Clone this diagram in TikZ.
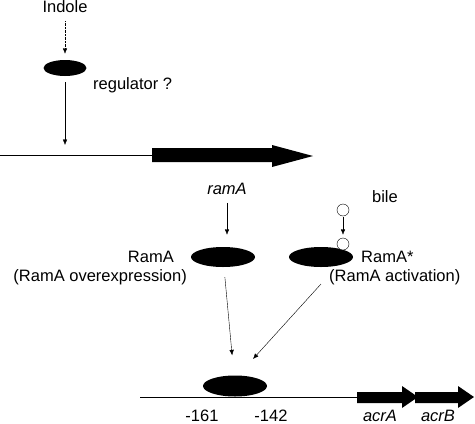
\documentclass[tikz,border=0pt]{standalone}
\usepackage{fontspec}
\setmainfont{Liberation Sans}
\usetikzlibrary{shapes.geometric,arrows.meta}
\tikzset{
  lbl/.style={font=\fontsize{16.5}{19}\selectfont, inner sep=0pt},
  gene/.style={font=\fontsize{16.5}{19}\selectfont\itshape, inner sep=0pt},
  blob/.style={ellipse, fill=black, minimum width=64pt, minimum height=20pt, inner sep=0pt},
  ligand/.style={circle, draw, fill=white, thin, minimum size=12pt, inner sep=0pt},
  arr/.style={-{Latex[length=5.5pt,width=4.5pt]}}
}

\begin{document}
\begin{tikzpicture}[x=1pt,y=-1pt]
        \useasboundingbox (0,0) rectangle (475,424);
        % indole and its regulator
        \node[lbl] (indole) at (65,7) {Indole};
        \node[blob, minimum width=43pt, minimum height=16pt] (reg) at (65,68) {};
        \node[lbl, anchor=west] (regtxt) at (93,85) {regulator ?};
        \coordinate (ramprom) at (65,145);
        \draw[densely dotted, arr, shorten <=8pt, shorten >=6pt] (indole) -- (reg);
        \draw[arr, shorten <=6pt] (reg) -- (ramprom);

        % ramA gene
        \draw (0,155) -- (152,155);
        \fill (152,148) -- (272,148) -- (272,145) -- (313,156) -- (272,167) -- (272,162) -- (152,162) -- cycle;
        \node[gene] (ramAtxt) at (227,189) {ramA};

        % RamA and activated RamA
        \node[blob] (ramA) at (223,257) {};
        \node[blob] (ramAstar) at (321,257) {};
        \node[lbl, anchor=east] (ramAlbl) at (174,257) {RamA};
        \node[lbl, anchor=east] (overlbl) at (187,277) {(RamA overexpression)};
        \draw[arr, shorten <=8pt, shorten >=12pt] (ramAtxt) -- (ramAtxt |- ramA.north);

        \node[ligand] (bilefree) at (343,210) {};
        \node[ligand] (bilebound) at (343,244) {};
        \node[lbl] (biletxt) at (385,197) {bile};
        \draw[arr, shorten <=1pt, shorten >=3pt] (bilefree) -- (bilebound);
        \node[lbl, anchor=west] (starlbl) at (361,257) {RamA*};
        \node[lbl, anchor=west] (actlbl) at (329,277) {(RamA activation)};

        % acrAB promoter
        \draw (140,397) -- (357,397);
        \node[blob, minimum height=21pt] (site) at (235,386) {};
        \coordinate (actfrom) at (321,284);
        \coordinate (actto) at (253,359);
        \draw[thin, arr, shorten <=10pt, shorten >=20pt] (ramA) -- (site);
        \draw[thin, arr] (actfrom) -- (actto);

        \fill (357,392) -- (402,392) -- (402,386) -- (418,397) -- (402,408) -- (402,403) -- (357,403) -- cycle;
        \fill (415,392) -- (458,392) -- (458,386) -- (474,397) -- (458,408) -- (458,403) -- (415,403) -- cycle;

        \node[lbl] (pos1) at (202,416) {-161};
        \node[lbl] (pos2) at (271,416) {-142};
        \node[gene] (acrAtxt) at (380,416) {acrA};
        \node[gene] (acrBtxt) at (438,416) {acrB};
\end{tikzpicture}
\end{document}
